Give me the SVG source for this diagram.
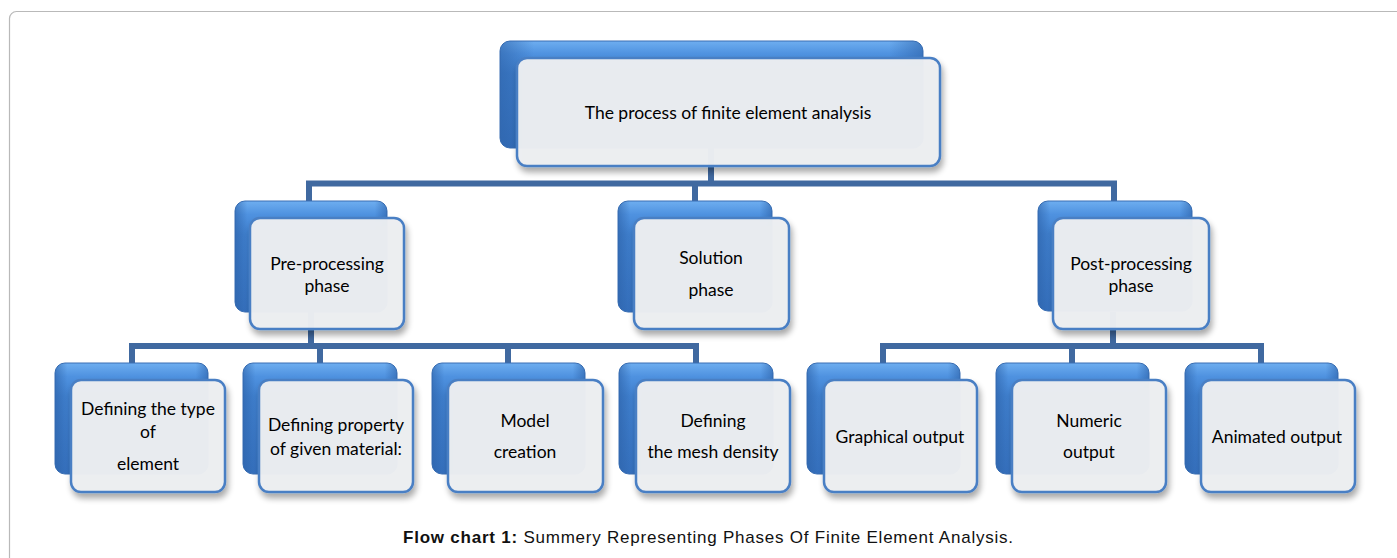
<svg xmlns="http://www.w3.org/2000/svg" width="1397" height="558" viewBox="0 0 1397 558">
<defs>
<linearGradient id="blueG" x1="0" y1="0" x2="0" y2="1">
<stop offset="0" stop-color="#6eaef0"/>
<stop offset="0.12" stop-color="#4f92e0"/>
<stop offset="0.3" stop-color="#3f7fcd"/>
<stop offset="1" stop-color="#3570bd"/>
</linearGradient>
<linearGradient id="edgeG" x1="0" y1="0" x2="1" y2="0">
<stop offset="0" stop-color="#2d62a8" stop-opacity="0.6"/>
<stop offset="0.08" stop-color="#2d62a8" stop-opacity="0"/>
<stop offset="0.92" stop-color="#2d62a8" stop-opacity="0"/>
<stop offset="1" stop-color="#2d62a8" stop-opacity="0.6"/>
</linearGradient>
<filter id="sh" x="-10%" y="-10%" width="125%" height="135%">
<feGaussianBlur in="SourceAlpha" stdDeviation="3"/>
<feOffset dx="2" dy="5" result="b"/>
<feComponentTransfer><feFuncA type="linear" slope="0.35"/></feComponentTransfer>
<feMerge><feMergeNode/><feMergeNode in="SourceGraphic"/></feMerge>
</filter>
</defs>
<style>
.back{fill:url(#blueG);stroke:#3a6fb4;stroke-width:1}
.edge{fill:url(#edgeG)}
.front{fill:#eceef2;fill-opacity:0.97;stroke:#4a7fc4;stroke-width:2.5}
.lbl{font-family:Lato,"Open Sans","Liberation Sans",sans-serif;font-size:17.5px;fill:#000;text-anchor:middle}
.conn{fill:none;stroke:#4069a0;stroke-width:6;stroke-linejoin:miter}
.cap{font-family:"Liberation Sans",Arial,sans-serif;font-size:17px;fill:#111}
</style>
<rect x="9.5" y="11.5" width="1420" height="600" rx="7" fill="none" stroke="#b9b9b9" stroke-width="1.2"/>
<g id="connectors">
<path class="conn" d="M711 148 V183.5 M309 201 V183.5 H1114 V201 M695 183.5 V201"/>
<path class="conn" d="M311 312 V346 M132 363 V346 H696 V363 M320 346 V363 M508 346 V363"/>
<path class="conn" d="M1113 312 V346 M883 363 V346 H1261 V363 M1072 346 V363"/>
</g>
<g id="n-root">
<rect class="back" x="500" y="41" width="423" height="107" rx="10"/>
<rect class="edge" x="500" y="41" width="423" height="107" rx="10"/>
<rect class="front" x="517" y="58" width="423" height="108" rx="10" filter="url(#sh)"/>
<text class="lbl" x="728" y="119">The process of finite element analysis</text>
</g>
<g id="n-pre">
<rect class="back" x="235" y="201" width="152" height="111" rx="10"/>
<rect class="edge" x="235" y="201" width="152" height="111" rx="10"/>
<rect class="front" x="250" y="218" width="154" height="111" rx="10" filter="url(#sh)"/>
<text class="lbl" x="327" y="270">Pre-processing</text>
<text class="lbl" x="327" y="292">phase</text>
</g>
<g id="n-sol">
<rect class="back" x="618" y="201" width="154" height="111" rx="10"/>
<rect class="edge" x="618" y="201" width="154" height="111" rx="10"/>
<rect class="front" x="634" y="218" width="155" height="111" rx="10" filter="url(#sh)"/>
<text class="lbl" x="711" y="264">Solution</text>
<text class="lbl" x="711" y="296">phase</text>
</g>
<g id="n-post">
<rect class="back" x="1038" y="201" width="154" height="110" rx="10"/>
<rect class="edge" x="1038" y="201" width="154" height="110" rx="10"/>
<rect class="front" x="1053" y="218" width="156" height="111" rx="10" filter="url(#sh)"/>
<text class="lbl" x="1131" y="270">Post-processing</text>
<text class="lbl" x="1131" y="292">phase</text>
</g>
<g id="n-type">
<rect class="back" x="55" y="363" width="153" height="111" rx="10"/>
<rect class="edge" x="55" y="363" width="153" height="111" rx="10"/>
<rect class="front" x="71" y="380" width="154" height="112" rx="10" filter="url(#sh)"/>
<text class="lbl" x="148" y="415">Defining the type</text>
<text class="lbl" x="148" y="438">of</text>
<text class="lbl" x="148" y="470">element</text>
</g>
<g id="n-prop">
<rect class="back" x="243" y="363" width="154" height="111" rx="10"/>
<rect class="edge" x="243" y="363" width="154" height="111" rx="10"/>
<rect class="front" x="259" y="380" width="154" height="112" rx="10" filter="url(#sh)"/>
<text class="lbl" x="336" y="431">Defining property</text>
<text class="lbl" x="336" y="455">of given material:</text>
</g>
<g id="n-model">
<rect class="back" x="432" y="363" width="153" height="111" rx="10"/>
<rect class="edge" x="432" y="363" width="153" height="111" rx="10"/>
<rect class="front" x="448" y="380" width="155" height="112" rx="10" filter="url(#sh)"/>
<text class="lbl" x="525" y="427">Model</text>
<text class="lbl" x="525" y="458">creation</text>
</g>
<g id="n-mesh">
<rect class="back" x="619" y="363" width="154" height="111" rx="10"/>
<rect class="edge" x="619" y="363" width="154" height="111" rx="10"/>
<rect class="front" x="636" y="380" width="154" height="112" rx="10" filter="url(#sh)"/>
<text class="lbl" x="713" y="427">Defining</text>
<text class="lbl" x="713" y="458">the mesh density</text>
</g>
<g id="n-graph">
<rect class="back" x="807" y="363" width="153" height="111" rx="10"/>
<rect class="edge" x="807" y="363" width="153" height="111" rx="10"/>
<rect class="front" x="824" y="380" width="153" height="112" rx="10" filter="url(#sh)"/>
<text class="lbl" x="900" y="443">Graphical output</text>
</g>
<g id="n-num">
<rect class="back" x="996" y="363" width="153" height="111" rx="10"/>
<rect class="edge" x="996" y="363" width="153" height="111" rx="10"/>
<rect class="front" x="1012" y="380" width="154" height="112" rx="10" filter="url(#sh)"/>
<text class="lbl" x="1089" y="427">Numeric</text>
<text class="lbl" x="1089" y="458">output</text>
</g>
<g id="n-anim">
<rect class="back" x="1185" y="363" width="153" height="111" rx="10"/>
<rect class="edge" x="1185" y="363" width="153" height="111" rx="10"/>
<rect class="front" x="1201" y="380" width="154" height="112" rx="10" filter="url(#sh)"/>
<text class="lbl" x="1277" y="443">Animated output</text>
</g>
<text class="cap" x="403" y="543" textLength="610" lengthAdjust="spacing"><tspan font-weight="bold">Flow chart 1:</tspan> Summery Representing Phases Of Finite Element Analysis.</text>
</svg>
